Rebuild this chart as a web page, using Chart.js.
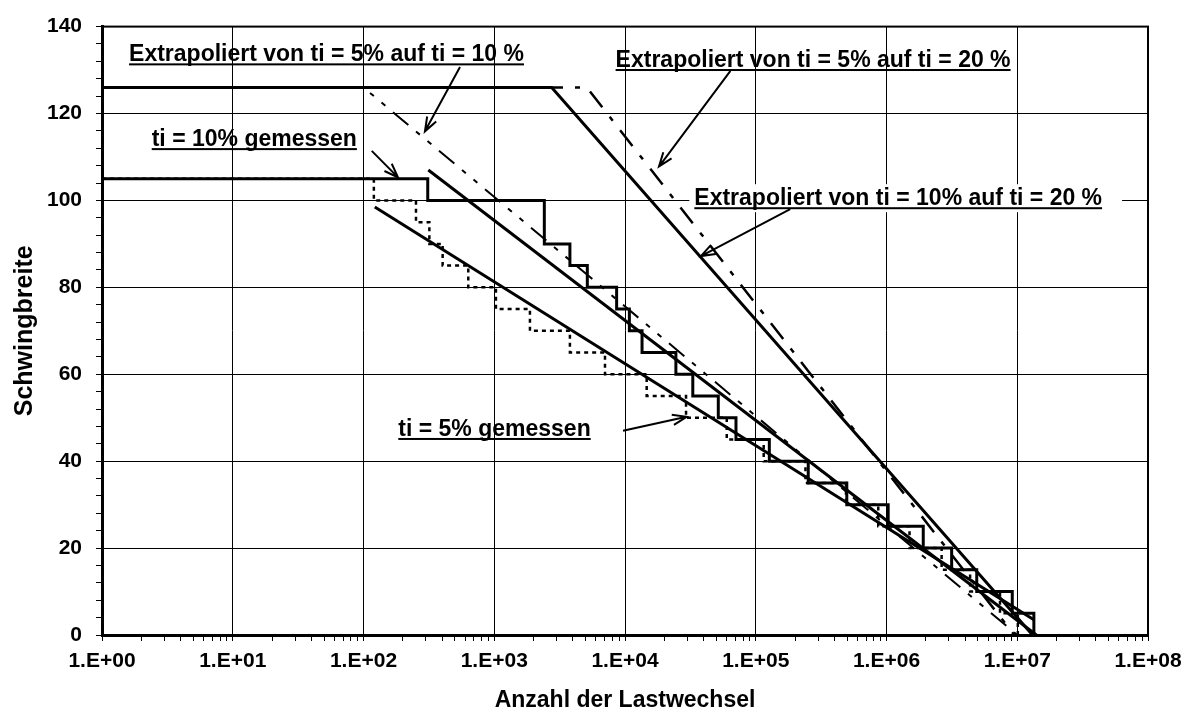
<!DOCTYPE html>
<html lang="de">
<head>
<meta charset="utf-8">
<title>Schwingbreite über Anzahl der Lastwechsel</title>
<script src="https://cdn.jsdelivr.net/npm/chart.js@4.4.1/dist/chart.umd.min.js"></script>
<style>
  html, body { margin: 0; padding: 0; background: #fff; }
  #chart { display: block; }
</style>
</head>
<body>
<canvas id="chart" width="1191" height="719"></canvas>
<script>
// ==========================================
// Schwingbreite über Anzahl der Lastwechsel
// ==========================================

const FONT = "'Liberation Sans', Arial, Helvetica, sans-serif";

// ti = 10% gemessen (Treppe): Lastwechsel, ab denen die Stufe gilt
const n10 = [1, 310, 2415, 3790, 5150, 8630, 10800, 13500, 24500, 33000, 51700, 70600,
             127000, 252000, 497000, 1030000, 1910000, 3150000, 4900000, 9160000, 13400000];
const s10 = [105, 100, 90, 85, 80, 75, 70, 65, 60, 55, 50, 45, 40, 35, 30, 25, 20, 15, 10, 5, 0];

// ti = 5% gemessen (Treppe, gepunktet)
const n5 = [1, 120, 252, 319, 403, 633, 1030, 1875, 3790, 7030, 14650, 29300, 60000,
            115000, 240000, 490000, 865000, 1500000, 2640000, 4360000, 7380000, 10100000];
const s5 = [105, 100, 95, 90, 85, 80, 75, 70, 65, 60, 55, 50, 45, 40, 35, 30, 25, 20, 15, 10, 5, 0];

// Ausgleichsgeraden der Messungen
const nReg10 = [313, 14000000];
const sReg10 = [107, 0];
const nReg5 = [122, 13400000];
const sReg5 = [98.5, 3.5];

// Extrapolationen
const nEx10auf20 = [1, 2750, 13100000];
const sEx10auf20 = [126, 126, 0];
const nEx5auf20 = [1, 5100, 9500000];
const sEx5auf20 = [126, 126, 0];
const nEx5auf10 = [1, 100, 10000000];
const sEx5auf10 = [126, 126, 0];

// Achsenbeschriftung
const xTickLabels = ['1.E+00', '1.E+01', '1.E+02', '1.E+03', '1.E+04', '1.E+05', '1.E+06', '1.E+07', '1.E+08'];

// Beschriftungen im Diagramm (Datenkoordinaten: linker Rand / Grundlinie)
const notes = [
  { text: 'Extrapoliert von ti = 5% auf ti = 10 %', x: 1.61, y: 132.0 },
  { text: 'ti = 10% gemessen', x: 2.40, y: 112.5 },
  { text: 'Extrapoliert von ti = 5% auf ti = 20 %', x: 8475, y: 130.7 },
  { text: 'Extrapoliert von ti = 10% auf ti = 20 %', x: 33900, y: 98.9, box: true },
  { text: 'ti = 5% gemessen', x: 184.6, y: 45.8 }
];

// Pfeile: von -> Spitze
const arrows = [
  { from: [547, 130.7], to: [295, 115.9] },
  { from: [115.6, 111.4], to: [183.6, 105.3] },
  { from: [64000, 129.8], to: [18200, 107.8] },
  { from: [183600, 98.0], to: [38100, 87.2] },
  { from: [9660, 47.0], to: [29600, 50.2] }
];

const pts = (xs, ys) => xs.map((x, i) => ({ x, y: ys[i] }));

function decadeIndex(v) {
  const e = Math.round(Math.log10(v));
  return Math.abs(v / Math.pow(10, e) - 1) < 1e-9 ? e : -1;
}

/**
 * Rahmen oben/rechts
 */
const framePlugin = {
  id: 'frame',
  afterDatasetsDraw(chart) {
    const { ctx, chartArea: a } = chart;
    ctx.save();
    ctx.strokeStyle = '#000';
    ctx.lineWidth = 2;
    ctx.strokeRect(a.left, a.top, a.right - a.left, a.bottom - a.top);
    ctx.restore();
  }
};

/**
 * Texte (unterstrichen) und Pfeile
 */
const notesPlugin = {
  id: 'notes',
  beforeDatasetsDraw(chart) {
    const { ctx, scales: { x, y } } = chart;
    ctx.save();
    ctx.font = `bold 23px ${FONT}`;
    ctx.textBaseline = 'alphabetic';
    notes.forEach(n => {
      const px = x.getPixelForValue(n.x);
      const py = y.getPixelForValue(n.y);
      const w = ctx.measureText(n.text).width;
      if (n.box) {
        ctx.fillStyle = '#fff';
        ctx.fillRect(px - 5, py - 21, w + 25, 28);
      }
      ctx.fillStyle = '#000';
      ctx.fillText(n.text, px, py);
      ctx.fillRect(px, py + 2, w, 2);
    });
    ctx.restore();
  },
  afterDatasetsDraw(chart) {
    const { ctx, scales: { x, y } } = chart;
    ctx.save();
    ctx.strokeStyle = '#000';
    ctx.lineWidth = 2;
    arrows.forEach(a => {
      const x1 = x.getPixelForValue(a.from[0]), y1 = y.getPixelForValue(a.from[1]);
      const x2 = x.getPixelForValue(a.to[0]), y2 = y.getPixelForValue(a.to[1]);
      const ang = Math.atan2(y2 - y1, x2 - x1);
      const len = 15, spread = 0.35;
      ctx.beginPath();
      ctx.moveTo(x1, y1);
      ctx.lineTo(x2, y2);
      ctx.moveTo(x2 - len * Math.cos(ang - spread), y2 - len * Math.sin(ang - spread));
      ctx.lineTo(x2, y2);
      ctx.lineTo(x2 - len * Math.cos(ang + spread), y2 - len * Math.sin(ang + spread));
      ctx.stroke();
    });
    ctx.restore();
  }
};

function line(data, extra) {
  return Object.assign({
    data,
    borderColor: '#000',
    borderWidth: 3,
    pointRadius: 0,
    fill: false,
    tension: 0
  }, extra || {});
}

const ctx = document.getElementById('chart').getContext('2d');

new Chart(ctx, {
  type: 'line',
  data: {
    datasets: [
      line(pts(nEx5auf10, sEx5auf10), { label: 'Extrapoliert von ti = 5% auf ti = 10 %', borderWidth: 2, borderDash: [20, 10, 5, 10, 5, 10] }),
      line(pts(nEx5auf20, sEx5auf20), { label: 'Extrapoliert von ti = 5% auf ti = 20 %', borderWidth: 2.5, borderDash: [20, 12, 5, 12] }),
      line(pts(nEx10auf20, sEx10auf20), { label: 'Extrapoliert von ti = 10% auf ti = 20 %' }),
      line(pts(nReg5, sReg5), { label: 'Ausgleich ti = 5%' }),
      line(pts(nReg10, sReg10), { label: 'Ausgleich ti = 10%' }),
      line(pts(n5, s5), { label: 'ti = 5% gemessen', stepped: 'before', borderWidth: 2.5, borderDash: [4, 4] }),
      line(pts(n10, s10), { label: 'ti = 10% gemessen', stepped: 'before' })
    ]
  },
  options: {
    responsive: false,
    animation: false,
    layout: { padding: { top: 19, right: 43, bottom: 0, left: 0 } },
    plugins: {
      legend: { display: false },
      tooltip: { enabled: false }
    },
    scales: {
      x: {
        type: 'logarithmic',
        min: 1,
        max: 1e8,
        afterBuildTicks(scale) {
          const ticks = [];
          for (let e = 0; e < 8; e++) {
            for (let m = 1; m < 10; m++) ticks.push({ value: m * Math.pow(10, e) });
          }
          ticks.push({ value: 1e8 });
          scale.ticks = ticks;
        },
        afterFit(scale) { scale.height = 84; },
        border: { display: true, color: '#000', width: 3 },
        grid: {
          color: c => (c.tick && decadeIndex(c.tick.value) >= 0) ? '#000' : 'rgba(0,0,0,0)',
          tickColor: '#000',
          lineWidth: 1,
          tickLength: 6
        },
        ticks: {
          autoSkip: false,
          maxRotation: 0,
          padding: 8,
          color: '#000',
          font: { family: FONT, size: 21, weight: 'bold' },
          callback: v => { const i = decadeIndex(v); return i >= 0 ? xTickLabels[i] : ''; }
        },
        title: {
          display: true,
          text: 'Anzahl der Lastwechsel',
          color: '#000',
          font: { family: FONT, size: 23, weight: 'bold' },
          padding: { top: 4, bottom: 5 }
        }
      },
      y: {
        min: 0,
        max: 140,
        afterFit(scale) { scale.width = 102; },
        border: { display: true, color: '#000', width: 3 },
        grid: {
          color: c => (c.tick && c.tick.value % 20 === 0) ? '#000' : 'rgba(0,0,0,0)',
          tickColor: '#000',
          lineWidth: 1,
          tickLength: 6
        },
        ticks: {
          stepSize: 4,
          autoSkip: false,
          padding: 14,
          color: '#000',
          font: { family: FONT, size: 21, weight: 'bold' },
          callback: v => (v % 20 === 0 ? String(v) : '')
        },
        title: {
          display: true,
          text: 'Schwingbreite',
          color: '#000',
          font: { family: FONT, size: 25, weight: 'bold' },
          padding: { top: 10, bottom: 0 }
        }
      }
    }
  },
  plugins: [notesPlugin, framePlugin]
});
</script>
</body>
</html>
